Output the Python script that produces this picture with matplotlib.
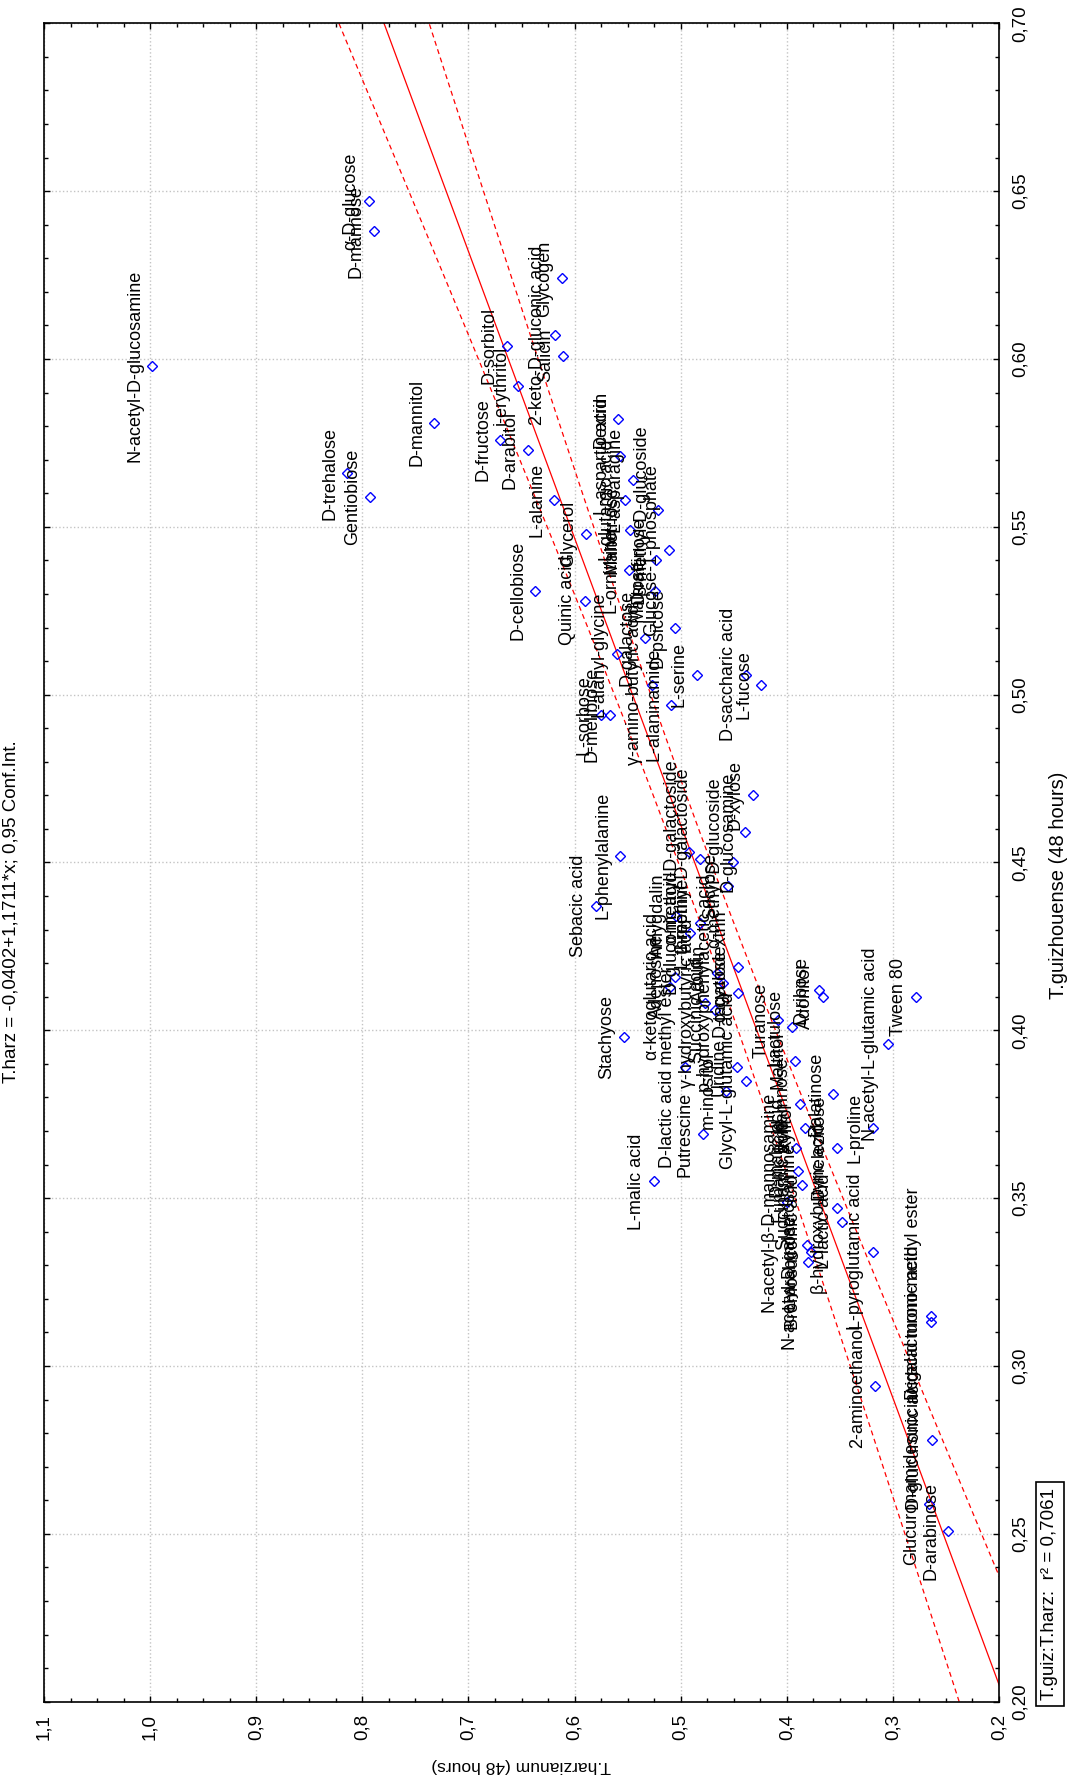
import numpy as np
import matplotlib
matplotlib.use("Agg")
import matplotlib.pyplot as plt
from matplotlib.ticker import MultipleLocator, FuncFormatter

plt.rcParams['font.family'] = ['Liberation Sans', 'DejaVu Sans']

names = [
    "N-acetyl-D-glucosamine", "α-D-glucose", "D-mannose", "D-trehalose", "Gentiobiose",
    "D-mannitol", "Glycogen", "2-keto-D-gluconic acid", "Salicin", "D-sorbitol",
    "i-erythritol", "D-fructose", "D-arabitol", "L-alanine", "Glycerol",
    "D-cellobiose", "Quinic acid", "Dextrin", "L-aspartic acid", "L-asparagine",
    "L-glutamic acid", "β-methyl-D-glucoside", "Maltotriose", "Glucose-1-phosphate", "D-raffinose",
    "L-ornithine", "Maltose", "D-psicose", "L-alanyl-glycine", "D-galactose",
    "L-serine", "D-saccharic acid", "L-fucose", "γ-amino-butyric acid", "L-alaninamide",
    "L-sorbose", "D-melibiose", "D-xylose", "D-glucosamine", "α-methyl-D-glucoside",
    "Sucrose", "β-methyl-D-galactoside", "α-methyl-D-galactoside", "L-phenylalanine", "Sebacic acid",
    "Stachyose", "L-threonine", "D-gluconic acid", "Amygdalin", "Adenosine",
    "Arbutin", "α-cyclodextrin", "α-ketoglutaric acid", "p-hydroxyphenylacetic acid", "D-tagatose",
    "γ-hydroxybutyric acid", "Succinic acid", "D-lactic acid methyl ester", "Uridine", "Glycyl-L-glutamic acid",
    "m-inositol", "Turanose", "Lactulose", "Maltitol", "D-ribose",
    "Adonitol", "N-acetyl-L-glutamic acid", "Tween 80", "Putrescine", "L-malic acid",
    "L-proline", "Palatinose", "L-rhamnose", "Xylitol", "D-melezitose",
    "D-malic acid", "Fumaric acid", "Succinamic acid", "N-acetyl-β-D-mannosamine", "β-hydroxybutyric acid",
    "L-lactic acid", "N-acetyl-D-galactosamine", "Bromosuccinic acid", "L-arabinose", "L-pyroglutamic acid",
    "succinic acid mono-methyl ester", "D-galacturonic acid", "2-aminoethanol", "D-glucuronic acid", "Glucuronamide",
    "D-arabinose",
]

harz = [
    0.998, 0.794, 0.789, 0.814, 0.793,
    0.732, 0.612, 0.618, 0.611, 0.664,
    0.653, 0.670, 0.644, 0.619, 0.589,
    0.637, 0.590, 0.559, 0.557, 0.545,
    0.552, 0.521, 0.548, 0.511, 0.523,
    0.549, 0.524, 0.505, 0.560, 0.534,
    0.485, 0.438, 0.424, 0.527, 0.509,
    0.575, 0.567, 0.432, 0.439, 0.451,
    0.455, 0.482, 0.492, 0.557, 0.580,
    0.553, 0.482, 0.491, 0.504, 0.505,
    0.466, 0.446, 0.510, 0.460, 0.446,
    0.477, 0.468, 0.496, 0.447, 0.438,
    0.457, 0.408, 0.395, 0.392, 0.370,
    0.366, 0.305, 0.278, 0.479, 0.525,
    0.319, 0.356, 0.388, 0.383, 0.353,
    0.391, 0.389, 0.386, 0.400, 0.353,
    0.348, 0.381, 0.377, 0.380, 0.319,
    0.264, 0.264, 0.317, 0.263, 0.266,
    0.248,
]

guiz = [
    0.598, 0.647, 0.638, 0.566, 0.559,
    0.581, 0.624, 0.607, 0.601, 0.604,
    0.592, 0.576, 0.573, 0.558, 0.548,
    0.531, 0.528, 0.582, 0.571, 0.564,
    0.558, 0.555, 0.549, 0.543, 0.540,
    0.537, 0.531, 0.520, 0.512, 0.517,
    0.506, 0.506, 0.503, 0.503, 0.497,
    0.494, 0.494, 0.470, 0.459, 0.450,
    0.443, 0.451, 0.453, 0.452, 0.437,
    0.398, 0.432, 0.429, 0.434, 0.416,
    0.417, 0.419, 0.413, 0.414, 0.411,
    0.408, 0.406, 0.389, 0.389, 0.385,
    0.382, 0.403, 0.401, 0.391, 0.412,
    0.410, 0.396, 0.410, 0.369, 0.355,
    0.371, 0.381, 0.378, 0.371, 0.365,
    0.365, 0.358, 0.354, 0.349, 0.347,
    0.343, 0.336, 0.334, 0.331, 0.334,
    0.315, 0.313, 0.294, 0.278, 0.259,
    0.251,
]

intercept = -0.0402
slope = 1.1711
t_crit = 1.986
title = "T.harz = -0,0402+1,1711*x; 0,95 Conf.Int."
xlab = "T.guizhouense (48 hours)"
ylab = "T.harzianum (48 hours)"
legend_text = "T.guiz:T.harz:  r² = 0,7061"

W, H = 1069, 1777
FS = 13
TFS = 13.5
fig = plt.figure(figsize=(W / 100, H / 100), dpi=100)
L, R, T, B = 44, 999, 23.3, 1701.7
ax = fig.add_axes([L / W, 1 - B / H, (R - L) / W, (B - T) / H])
ax.set_xlim(1.1, 0.2)
ax.set_ylim(0.2, 0.7)

g = np.array(guiz)
h = np.array(harz)
gg = np.linspace(0.2, 0.7, 300)
fit = intercept + slope * gg
n = len(g)
res = h - (intercept + slope * g)
s = np.sqrt(np.sum(res ** 2) / (n - 2))
sxx = np.sum((g - g.mean()) ** 2)
hw = t_crit * s * np.sqrt(1 / n + (gg - g.mean()) ** 2 / sxx)

ax.plot(fit, gg, color='#ff0000', lw=0.9, zorder=2)
ax.plot(fit - hw, gg, color='#ff0000', lw=0.9, ls=(0, (4, 3)), zorder=2)
ax.plot(fit + hw, gg, color='#ff0000', lw=0.9, ls=(0, (4, 3)), zorder=2)

ax.plot(h, g, ls='none', marker='D', ms=5.5, mfc='none', mec='#0000ff', mew=1.0, zorder=3)
for nm, hx, gy in zip(names, harz, guiz):
    ax.annotate(nm, (hx, gy), xytext=(-6.5, 0), textcoords='offset points',
                rotation=90, ha='right', va='center', fontsize=FS, color='black', zorder=4)

ax.xaxis.set_major_locator(MultipleLocator(0.1))
ax.xaxis.set_minor_locator(MultipleLocator(0.025))
ax.yaxis.set_major_locator(MultipleLocator(0.05))
ax.yaxis.set_minor_locator(MultipleLocator(0.01))
ax.xaxis.set_major_formatter(FuncFormatter(lambda v, p: f"{v:.1f}".replace('.', ',')))
ax.yaxis.set_major_formatter(FuncFormatter(lambda v, p: f"{v:.2f}".replace('.', ',')))
ax.tick_params(axis='both', which='both', direction='in', top=True, bottom=True,
               left=True, right=True, labelleft=False, labelright=True,
               labelsize=TFS, pad=9)
ax.tick_params(which='major', length=4, width=1)
ax.tick_params(which='minor', length=3, width=1)
ax.tick_params(axis='x', labelrotation=90)
ax.tick_params(axis='y', labelrotation=90)
for lab in ax.get_yticklabels():
    lab.set_va('center')

ax.grid(True, which='major', color='#c4c4c4', ls=':', lw=1.0)
ax.set_axisbelow(True)
for sp in ax.spines.values():
    sp.set_linewidth(1.2)
    sp.set_color('black')

fig.text(11 / W, 1 - 912 / H, title, rotation=90, ha='center', va='center', fontsize=TFS)
fig.text(1058 / W, 1 - 885 / H, xlab, rotation=90, ha='center', va='center', fontsize=14.5)
fig.text(521 / W, 1 - 1765 / H, ylab, rotation=180, ha='center', va='center', fontsize=12.5)
fig.text(1050 / W, 1 - 1594 / H, legend_text, rotation=90, ha='center', va='center', fontsize=TFS,
         bbox=dict(boxstyle='square,pad=0.3', fc='white', ec='black', lw=1.2))

fig.savefig("out.png", dpi=100)
